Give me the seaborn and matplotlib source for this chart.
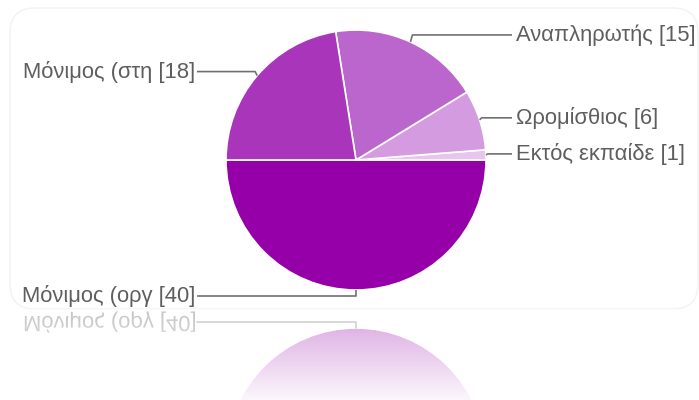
import numpy as np
import matplotlib
matplotlib.use("Agg")
import matplotlib.pyplot as plt
import seaborn as sns
from matplotlib.patches import FancyBboxPatch, PathPatch
from matplotlib.textpath import TextPath
from matplotlib.font_manager import FontProperties
from matplotlib.transforms import Affine2D

# data, in drawing order (counter-clockwise from 9 o'clock)
labels = ["Μόνιμος (οργ", "Εκτός εκπαίδε", "Ωρομίσθιος", "Αναπληρωτής", "Μόνιμος (στη"]
counts = [40, 1, 6, 15, 18]
colors = ["#9600a8", "#e6c6ec", "#d49be0", "#bb66cc", "#a936ba"]

# label layout: side and vertical offset (px) from the anchor point
sides = ["left", "right", "right", "right", "left"]
dy = [-6, 1, 2, 7, 4]

sns.set_theme(style="white")
plt.rcParams["font.family"] = ["Liberation Sans", "DejaVu Sans"]

W, H = 699, 400
fig = plt.figure(figsize=(6.99, 4.0), dpi=100)
ax = fig.add_axes([0, 0, 1, 1])

cx, cy, r = 356, H - 160, 130
mirror = H - 309
text_col = "#5e5e5e"
line_col = "#707070"
fs = 15.8

# card
card = FancyBboxPatch((10, mirror), 688, H - 8 - mirror,
                      boxstyle="round,pad=0,rounding_size=25",
                      facecolor="white", edgecolor="#f2f2f2", lw=1, zorder=0)
ax.add_patch(card)

wedges, _ = ax.pie(counts, colors=colors, startangle=180, counterclock=True,
                   center=(cx, cy), radius=r,
                   wedgeprops=dict(edgecolor="white", linewidth=1.2))

# reflection
ax.pie(counts, colors=colors, startangle=180, counterclock=False,
       center=(cx, 2 * mirror - cy), radius=r,
       wedgeprops=dict(edgecolor="white", linewidth=1.2))

lx_left, lx_right = 197, 512
for w, lab, n, side, d in zip(wedges, labels, counts, sides, dy):
    mid = np.deg2rad((w.theta1 + w.theta2) / 2)
    ax_ = cx + r * np.cos(mid)
    ay_ = cy + r * np.sin(mid)
    ly = ay_ + d
    txt = f"{lab} [{n}]"
    if side == "left":
        if abs(np.cos(mid)) < 0.2:
            xs, ys = [ax_, ax_, lx_left], [ay_, ly, ly]
        else:
            xs, ys = [ax_, ax_ - 2, lx_left], [ay_, ly, ly]
        ax.plot(xs, ys, color=line_col, lw=1.2, solid_capstyle="butt")
        ax.text(lx_left - 2, ly, txt, ha="right", va="center",
                fontsize=fs, color=text_col)
        if abs(np.cos(mid)) < 0.2:
            # mirrored leader and label
            my = 2 * mirror - ly
            may = 2 * mirror - ay_
            ax.plot([ax_, ax_, lx_left], [may, my, my], color=line_col,
                    lw=1.2, zorder=1)
            tp = TextPath((0, 0), txt, size=fs * 100 / 72,
                          prop=FontProperties(family="Liberation Sans"))
            bb = tp.get_extents()
            tr = (Affine2D().translate(-bb.x1, -(bb.y0 + bb.y1) / 2)
                  .scale(1, -1).translate(lx_left - 2, my))
            ax.add_patch(PathPatch(tr.transform_path(tp), facecolor=text_col,
                                   edgecolor="none", zorder=1))
    else:
        ax.plot([ax_, ax_ + 2, lx_right], [ay_, ly, ly], color=line_col,
                lw=1.2, solid_capstyle="butt")
        ax.text(lx_right + 4, ly, txt, ha="left", va="center",
                fontsize=fs, color=text_col)

# fade of the reflection
ramp = np.linspace(0.97, 0.64, 100)[:, None]
grad = np.ones((100, 1, 4))
grad[..., 3] = ramp
ax.imshow(grad, extent=[0, W, 0, mirror], aspect="auto", zorder=5,
          origin="lower", interpolation="bilinear")

ax.set_xlim(0, W)
ax.set_ylim(0, H)
ax.set_aspect("auto")
ax.axis("off")

fig.savefig("out.png", dpi=100)
